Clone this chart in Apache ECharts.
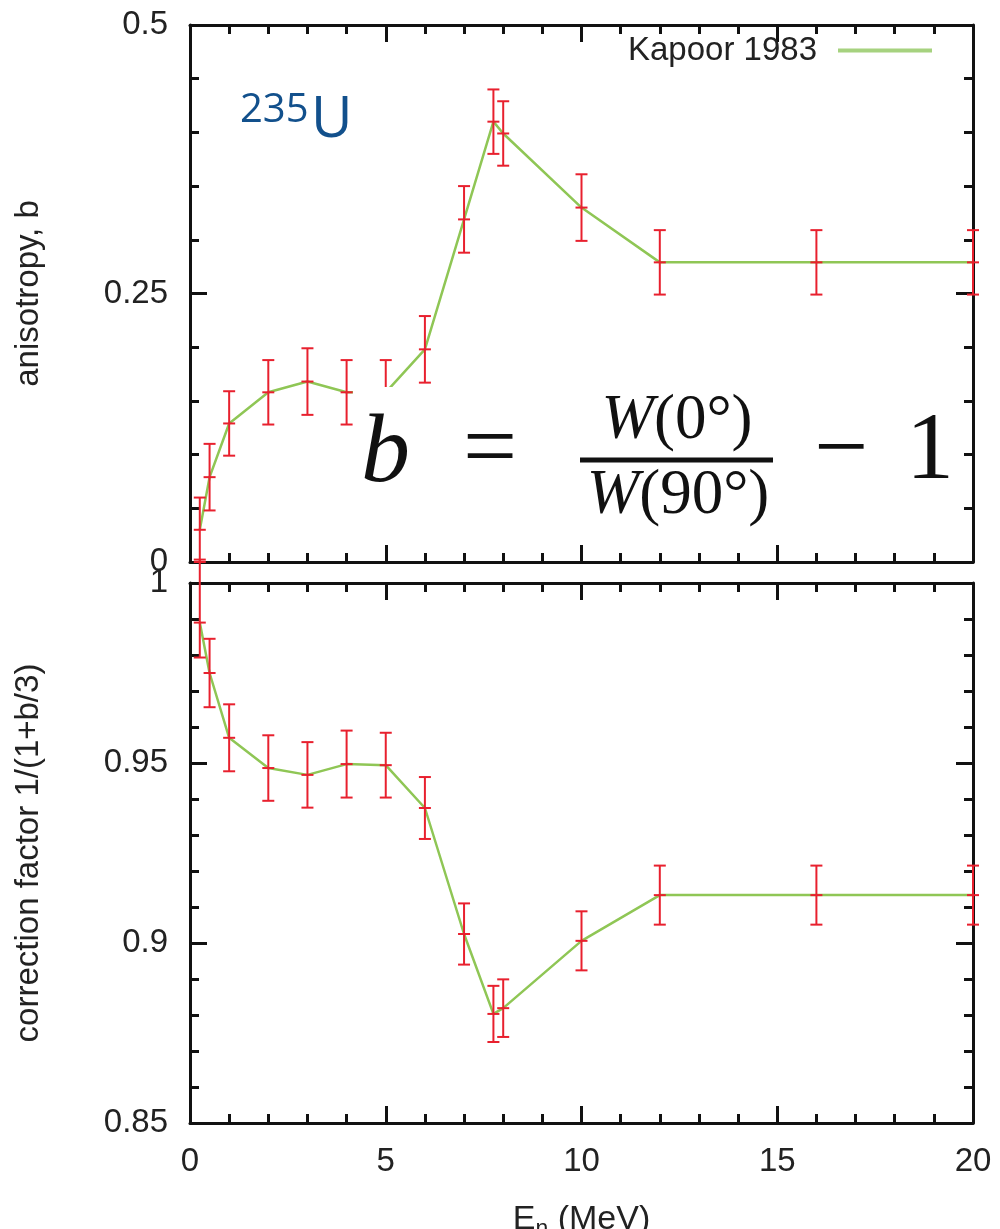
<!DOCTYPE html>
<html>
<head>
<meta charset="utf-8">
<script src="https://cdn.jsdelivr.net/npm/echarts@6/dist/echarts.min.js"></script>
<style>
  html, body { margin: 0; padding: 0; background: #fff; }
  #chart { width: 1000px; height: 1229px; }
</style>
</head>
<body>
<div id="chart"></div>
<script>
// Neutron energy grid (MeV), Kapoor 1983 fission-fragment anisotropy for 235U
const energy = [0.25, 0.5, 1, 2, 3, 4, 5, 6, 7, 7.75, 8, 10, 12, 16, 20];

// Anisotropy b = W(0°)/W(90°) - 1 and its uncertainty
const anisotropy    = [0.030, 0.079, 0.129, 0.158, 0.168, 0.158, 0.158, 0.198, 0.319, 0.410, 0.399, 0.330, 0.279, 0.279, 0.279];
const anisotropyErr = [0.030, 0.031, 0.030, 0.030, 0.031, 0.030, 0.030, 0.031, 0.031, 0.030, 0.030, 0.031, 0.030, 0.030, 0.030];

// Correction factor 1/(1+b/3) with lower / upper uncertainties
const correction        = [0.989, 0.975, 0.957, 0.9486, 0.9467, 0.9497, 0.9494, 0.9375, 0.9025, 0.8803, 0.8819, 0.9006, 0.9133, 0.9133, 0.9133];
const correctionErrLow  = [0.0097, 0.0095, 0.0093, 0.0091, 0.0091, 0.0093, 0.0090, 0.0086, 0.0085, 0.0078, 0.0080, 0.0082, 0.0082, 0.0082, 0.0082];
const correctionErrHigh = [0.0175, 0.0095, 0.0093, 0.0091, 0.0091, 0.0093, 0.0090, 0.0086, 0.0085, 0.0078, 0.0080, 0.0082, 0.0082, 0.0082, 0.0082];

// Axis ranges and tick steps
const xRange = [0, 20], xStep = 5;
const bRange = [0, 0.5], bStep = 0.25;
const cRange = [0.85, 1], cStep = 0.05;

const seriesName = 'Kapoor 1983';
const lineColor = '#8fc655';
const barColor = '#e8202e';
const axisColor = '#111';
const textColor = '#222';
const sans = 'Liberation Sans, Arial, sans-serif';
const serif = 'Liberation Serif, Times New Roman, serif';

const lineData = energy.map((e, i) => [e, anisotropy[i]]);
const barData = energy.map((e, i) => [e, anisotropy[i], anisotropy[i] - anisotropyErr[i], anisotropy[i] + anisotropyErr[i]]);
const corrLine = energy.map((e, i) => [e, correction[i]]);
const corrBars = energy.map((e, i) => [e, correction[i], correction[i] - correctionErrLow[i], correction[i] + correctionErrHigh[i]]);

function errorBars(params, api) {
  const x = api.value(0);
  const c = api.coord([x, api.value(1)]);
  const lo = api.coord([x, api.value(2)]);
  const hi = api.coord([x, api.value(3)]);
  const w = 6;
  const style = { stroke: barColor, lineWidth: 2 };
  const seg = (x1, y1, x2, y2) => ({ type: 'line', shape: { x1, y1, x2, y2 }, style });
  return {
    type: 'group',
    children: [
      seg(c[0], hi[1], c[0], lo[1]),
      seg(c[0] - w, hi[1], c[0] + w, hi[1]),
      seg(c[0] - w, lo[1], c[0] + w, lo[1]),
      seg(c[0] - w, c[1], c[0] + w, c[1])
    ]
  };
}

function frameAxis(extra) {
  return Object.assign({
    type: 'value',
    axisLine: { show: true, onZero: false, lineStyle: { color: axisColor, width: 3 } },
    axisTick: { show: true, inside: true, length: 17, lineStyle: { color: axisColor, width: 3 } },
    minorTick: { show: true, splitNumber: 5, length: 9, lineStyle: { color: axisColor, width: 3 } },
    splitLine: { show: false },
    axisLabel: { show: false }
  }, extra);
}

const tickLabel = { show: true, fontSize: 33, fontFamily: sans, color: textColor, lineHeight: 33 };

const grids = [
  { left: 190, top: 25, width: 783, height: 537, outerBoundsMode: 'none', containLabel: false },
  { left: 190, top: 583, width: 783, height: 540, outerBoundsMode: 'none', containLabel: false }
];

const option = {
  animation: false,
  backgroundColor: '#fff',
  grid: grids,
  legend: {
    data: [seriesName],
    right: 68, top: 27, padding: 0,
    align: 'right',
    icon: 'path://M0,0M16,0L110,0L110,4L16,4Z',
    itemWidth: 110, itemHeight: 4,
    itemStyle: { color: '#a6d27f' },
    textStyle: { fontSize: 33, fontFamily: sans, color: textColor, lineHeight: 33, padding: [0, 0, 14, 0] }
  },
  xAxis: [
    frameAxis({ gridIndex: 0, position: 'bottom', min: xRange[0], max: xRange[1], interval: xStep }),
    frameAxis({ gridIndex: 0, position: 'top', min: xRange[0], max: xRange[1], interval: xStep }),
    frameAxis({
      gridIndex: 1, position: 'bottom', min: xRange[0], max: xRange[1], interval: xStep,
      axisLabel: Object.assign({}, tickLabel, { margin: 22 }),
      name: '{e|E}{s|n}{e| (MeV)}',
      nameLocation: 'middle', nameGap: 76,
      nameTextStyle: {
        rich: {
          e: { fontSize: 34, fontFamily: sans, color: textColor, lineHeight: 42 },
          s: { fontSize: 23, fontFamily: sans, color: textColor, lineHeight: 42, padding: [20, 0, 0, 0] }
        }
      }
    }),
    frameAxis({ gridIndex: 1, position: 'top', min: xRange[0], max: xRange[1], interval: xStep })
  ],
  yAxis: [
    frameAxis({
      gridIndex: 0, position: 'left', min: bRange[0], max: bRange[1], interval: bStep,
      axisLabel: Object.assign({}, tickLabel, { margin: 22 }),
      name: 'anisotropy, b', nameLocation: 'middle', nameRotate: 90, nameGap: 145,
      nameTextStyle: { fontSize: 33, fontFamily: sans, color: textColor, lineHeight: 33 }
    }),
    frameAxis({ gridIndex: 0, position: 'right', min: bRange[0], max: bRange[1], interval: bStep }),
    frameAxis({
      gridIndex: 1, position: 'left', min: cRange[0], max: cRange[1], interval: cStep,
      axisLabel: Object.assign({}, tickLabel, { margin: 22 }),
      name: 'correction factor 1/(1+b/3)', nameLocation: 'middle', nameRotate: 90, nameGap: 145,
      nameTextStyle: { fontSize: 33, fontFamily: sans, color: textColor, lineHeight: 33 }
    }),
    frameAxis({ gridIndex: 1, position: 'right', min: cRange[0], max: cRange[1], interval: cStep })
  ],
  series: [
    {
      name: seriesName, type: 'line', xAxisIndex: 0, yAxisIndex: 0,
      data: lineData, symbol: 'none', color: lineColor,
      lineStyle: { color: lineColor, width: 2.5 }, z: 2
    },
    {
      type: 'custom', xAxisIndex: 0, yAxisIndex: 0, data: barData,
      renderItem: errorBars, clip: false, z: 3
    },
    {
      name: seriesName, type: 'line', xAxisIndex: 2, yAxisIndex: 2,
      data: corrLine, symbol: 'none', color: lineColor,
      lineStyle: { color: lineColor, width: 2.5 }, z: 2
    },
    {
      type: 'custom', xAxisIndex: 2, yAxisIndex: 2, data: corrBars,
      renderItem: errorBars, clip: false, z: 3
    }
  ],
  graphic: [
    // Isotope label
    { type: 'text', z: 100, left: 240, top: 91,
      style: { text: '235', fontSize: 40, fontFamily: 'Open Sans', fill: '#12508c' } },
    { type: 'text', z: 100, left: 311, top: 92,
      style: { text: 'U', fontSize: 57, fontFamily: 'Open Sans', fill: '#12508c' } },
    // Definition of the anisotropy, drawn on a white panel
    { type: 'rect', z: 100, shape: { x: 353, y: 387, width: 597, height: 153 }, style: { fill: '#fff' } },
    { type: 'text', z: 101, x: 361, y: 455,
      style: { text: 'b', fontSize: 98, fontStyle: 'italic', fontFamily: serif, fill: '#111', verticalAlign: 'middle' } },
    { type: 'text', z: 101, x: 463, y: 452.6,
      style: { text: '=', fontSize: 96, fontFamily: serif, fill: '#111', verticalAlign: 'middle' } },
    { type: 'rect', z: 101, shape: { x: 580, y: 457.5, width: 193, height: 5 }, style: { fill: '#111' } },
    { type: 'text', z: 101, x: 677, y: 421.7,
      style: {
        text: '{i|W}{r|(0°)}', align: 'center', verticalAlign: 'middle',
        rich: {
          i: { fontSize: 63, fontStyle: 'italic', fontFamily: serif, fill: '#111' },
          r: { fontSize: 63, fontFamily: serif, fill: '#111' }
        }
      } },
    { type: 'text', z: 101, x: 678, y: 496.7,
      style: {
        text: '{i|W}{r|(90°)}', align: 'center', verticalAlign: 'middle',
        rich: {
          i: { fontSize: 63, fontStyle: 'italic', fontFamily: serif, fill: '#111' },
          r: { fontSize: 63, fontFamily: serif, fill: '#111' }
        }
      } },
    { type: 'text', z: 101, x: 814, y: 452.6,
      style: { text: '\u2212', fontSize: 96, fontFamily: serif, fill: '#111', verticalAlign: 'middle' } },
    { type: 'text', z: 101, x: 906, y: 452.6,
      style: { text: '1', fontSize: 96, fontFamily: serif, fill: '#111', verticalAlign: 'middle' } }
  ]
};

const chart = echarts.init(document.getElementById('chart'), null, { renderer: 'canvas' });
chart.setOption(option);
</script>
</body>
</html>
